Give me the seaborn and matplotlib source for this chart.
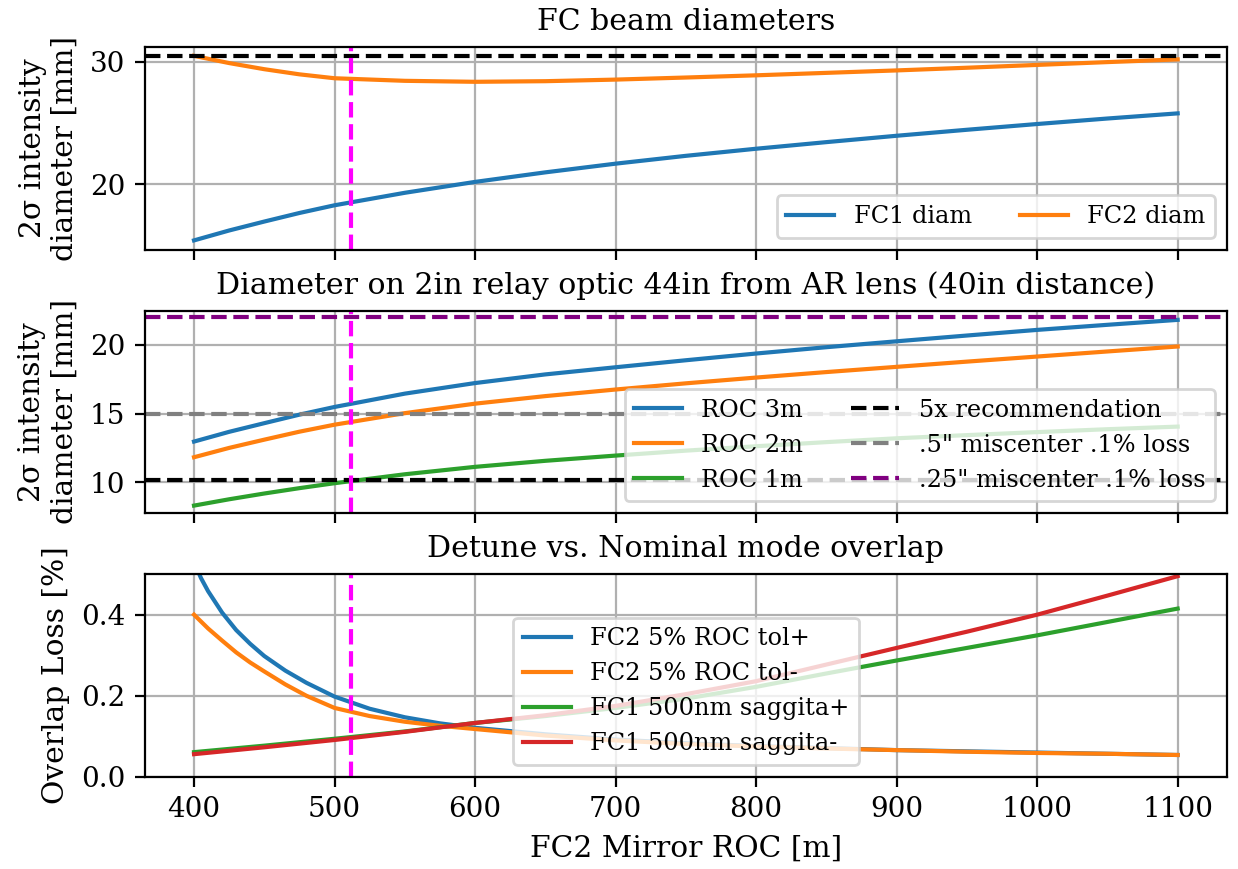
import numpy as np
import pandas as pd
import matplotlib
matplotlib.use("Agg")
import matplotlib.pyplot as plt
import seaborn as sns

plt.rcParams.update({
    "font.family": ["DejaVu Serif"],
    "font.size": 10,
    "axes.grid": True,
    "grid.color": "#b0b0b0",
    "grid.linewidth": 0.8,
    "axes.titlesize": 10.8,
    "axes.labelsize": 10.7,
    "xtick.labelsize": 10,
    "ytick.labelsize": 10,
    "legend.fontsize": 8.65,
})

# ---------------- data ----------------
roc = [400, 425, 450, 475, 500, 550, 600, 650, 700, 750, 800, 850, 900, 950, 1000, 1050, 1100]

fc1_diam = [15.41, 16.22, 16.95, 17.65, 18.28, 19.30, 20.19, 20.97, 21.68, 22.32, 22.90,
            23.44, 23.96, 24.45, 24.92, 25.37, 25.79]
fc2_diam = [30.49, 29.90, 29.40, 28.98, 28.66, 28.45, 28.37, 28.42, 28.55, 28.72, 28.90,
            29.10, 29.30, 29.52, 29.75, 29.98, 30.20]
fc2_limit = 30.48

roc3_diam = [12.96, 13.67, 14.30, 14.92, 15.48, 16.45, 17.22, 17.85, 18.37, 18.88, 19.37,
             19.83, 20.26, 20.68, 21.09, 21.46, 21.82]
roc2_diam = [11.82, 12.50, 13.10, 13.68, 14.19, 15.03, 15.72, 16.27, 16.75, 17.20, 17.62,
             18.02, 18.40, 18.78, 19.15, 19.52, 19.88]
roc1_diam = [8.30, 8.76, 9.18, 9.57, 9.93, 10.58, 11.12, 11.56, 11.94, 12.30, 12.62,
             12.92, 13.20, 13.43, 13.65, 13.86, 14.05]
rec_5x = 10.16
miscenter_05 = 15.0
miscenter_025 = 22.0

roc_tol = [400, 405, 410, 420, 430, 440, 450, 465, 480, 500, 525, 550, 575, 600, 650,
           700, 750, 800, 850, 900, 950, 1000, 1050, 1100]
tol_plus = [0.530, 0.490, 0.458, 0.405, 0.362, 0.328, 0.298, 0.262, 0.232, 0.198, 0.168,
            0.147, 0.132, 0.121, 0.105, 0.092, 0.083, 0.076, 0.071, 0.066, 0.063, 0.060,
            0.057, 0.054]
tol_minus = [0.400, 0.383, 0.366, 0.336, 0.307, 0.282, 0.260, 0.228, 0.200, 0.170, 0.150,
             0.136, 0.126, 0.118, 0.102, 0.090, 0.081, 0.075, 0.070, 0.066, 0.062, 0.059,
             0.057, 0.054]

roc_sag = [400, 450, 500, 550, 600, 650, 700, 750, 800, 850, 900, 950, 1000, 1050, 1100]
sag_plus = [0.061, 0.077, 0.094, 0.112, 0.133, 0.150, 0.170, 0.193, 0.222, 0.255, 0.287,
            0.318, 0.349, 0.382, 0.415]
sag_minus = [0.056, 0.073, 0.091, 0.111, 0.133, 0.152, 0.175, 0.204, 0.236, 0.277, 0.318,
             0.358, 0.400, 0.447, 0.495]

chosen_roc = 512

colors = sns.color_palette("tab10")

fig, axes = plt.subplots(3, 1, sharex=True, figsize=(6.19, 4.345), dpi=200)
fig.subplots_adjust(left=0.117, right=0.991, top=0.946, bottom=0.106, hspace=0.30)

# ---- top panel ----
ax = axes[0]
sns.lineplot(x=roc, y=fc1_diam, ax=ax, color=colors[0], label="FC1 diam")
sns.lineplot(x=roc, y=fc2_diam, ax=ax, color=colors[1], label="FC2 diam")
ax.axhline(fc2_limit, color="k", ls="--")
ax.axvline(chosen_roc, color="magenta", ls="--")
ax.set_title("FC beam diameters")
ax.set_ylabel("2σ intensity\ndiameter [mm]")
ax.set_ylim(14.65, 31.22)
ax.legend(loc="lower right", ncol=2)

# ---- middle panel ----
ax = axes[1]
sns.lineplot(x=roc, y=roc3_diam, ax=ax, color=colors[0], label="ROC 3m")
sns.lineplot(x=roc, y=roc2_diam, ax=ax, color=colors[1], label="ROC 2m")
sns.lineplot(x=roc, y=roc1_diam, ax=ax, color=colors[2], label="ROC 1m")
ax.axhline(rec_5x, color="k", ls="--", label="5x recommendation")
ax.axhline(miscenter_05, color="gray", ls="--", label='.5" miscenter .1% loss')
ax.axhline(miscenter_025, color="purple", ls="--", label='.25" miscenter .1% loss')
ax.axvline(chosen_roc, color="magenta", ls="--")
ax.set_title("Diameter on 2in relay optic 44in from AR lens (40in distance)")
ax.set_ylabel("2σ intensity\ndiameter [mm]")
ax.set_ylim(7.74, 22.5)
ax.legend(loc="lower right", ncol=2)

# ---- bottom panel ----
ax = axes[2]
sns.lineplot(x=roc_tol, y=tol_plus, ax=ax, color=colors[0], label="FC2 5% ROC tol+")
sns.lineplot(x=roc_tol, y=tol_minus, ax=ax, color=colors[1], label="FC2 5% ROC tol-")
sns.lineplot(x=roc_sag, y=sag_plus, ax=ax, color=colors[2], label="FC1 500nm saggita+")
sns.lineplot(x=roc_sag, y=sag_minus, ax=ax, color=colors[3], label="FC1 500nm saggita-")
ax.axvline(chosen_roc, color="magenta", ls="--")
ax.set_title("Detune vs. Nominal mode overlap")
ax.set_ylabel("Overlap Loss [%]")
ax.set_xlabel("FC2 Mirror ROC [m]")
ax.set_ylim(0, 0.5)
ax.set_xticks([400, 500, 600, 700, 800, 900, 1000, 1100])
ax.legend(loc="lower center")

fig.savefig("out.png", dpi=200)
